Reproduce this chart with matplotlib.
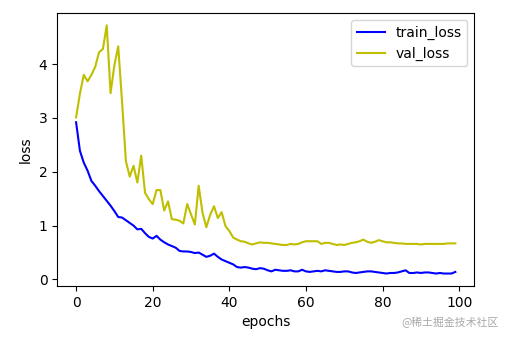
import numpy as np
import matplotlib
matplotlib.use('Agg')
import matplotlib.pyplot as plt

# per-epoch losses from the training run
train_loss = [2.92, 2.39, 2.17, 2.02, 1.83, 1.74, 1.64, 1.55, 1.46, 1.37,
              1.27, 1.16, 1.15, 1.10, 1.05, 1.00, 0.93, 0.94, 0.86, 0.79,
              0.76, 0.81, 0.74, 0.69, 0.65, 0.62, 0.59, 0.53, 0.52, 0.52,
              0.51, 0.49, 0.50, 0.46, 0.42, 0.44, 0.48, 0.42, 0.37, 0.34,
              0.31, 0.28, 0.23, 0.22, 0.23, 0.22, 0.20, 0.19, 0.21, 0.20,
              0.17, 0.15, 0.18, 0.17, 0.16, 0.16, 0.17, 0.15, 0.15, 0.18,
              0.15, 0.14, 0.15, 0.16, 0.15, 0.17, 0.16, 0.15, 0.14, 0.14,
              0.15, 0.15, 0.13, 0.12, 0.13, 0.14, 0.15, 0.15, 0.14, 0.13,
              0.12, 0.11, 0.12, 0.12, 0.13, 0.15, 0.17, 0.12, 0.12, 0.13,
              0.12, 0.13, 0.13, 0.12, 0.11, 0.12, 0.11, 0.11, 0.11, 0.14]

val_loss = [3.01, 3.45, 3.80, 3.68, 3.80, 3.95, 4.22, 4.28, 4.72, 3.46,
            3.98, 4.33, 3.30, 2.20, 1.91, 2.11, 1.80, 2.30, 1.61, 1.49,
            1.40, 1.66, 1.66, 1.28, 1.45, 1.12, 1.11, 1.09, 1.04, 1.40,
            1.21, 1.02, 1.74, 1.24, 0.97, 1.20, 1.36, 1.14, 1.25, 0.99,
            0.90, 0.78, 0.74, 0.71, 0.70, 0.67, 0.65, 0.67, 0.69, 0.68,
            0.68, 0.67, 0.66, 0.65, 0.64, 0.64, 0.66, 0.65, 0.66, 0.69,
            0.71, 0.71, 0.71, 0.71, 0.66, 0.68, 0.68, 0.66, 0.64, 0.65,
            0.64, 0.66, 0.68, 0.69, 0.71, 0.74, 0.70, 0.68, 0.70, 0.73,
            0.71, 0.69, 0.69, 0.68, 0.67, 0.67, 0.66, 0.66, 0.66, 0.66,
            0.65, 0.66, 0.66, 0.66, 0.66, 0.66, 0.66, 0.67, 0.67, 0.67]

epochs = np.arange(len(train_loss))

fig = plt.figure(figsize=(5.1, 3.4), dpi=100)
ax = fig.add_axes([0.112, 0.159, 0.818, 0.803])

ax.plot(epochs, train_loss, color='b', label='train_loss')
ax.plot(epochs, val_loss, color='y', label='val_loss')
ax.set_xlabel('epochs')
ax.set_ylabel('loss')
ax.legend(loc='upper right')

fig.text(0.978, 0.05, '@稀土掘金技术社区', ha='right', va='center',
         fontsize=7.8, color='#a8a8a8',
         family=['Noto Sans CJK SC', 'DejaVu Sans'])

fig.savefig('out.png', dpi=100)
